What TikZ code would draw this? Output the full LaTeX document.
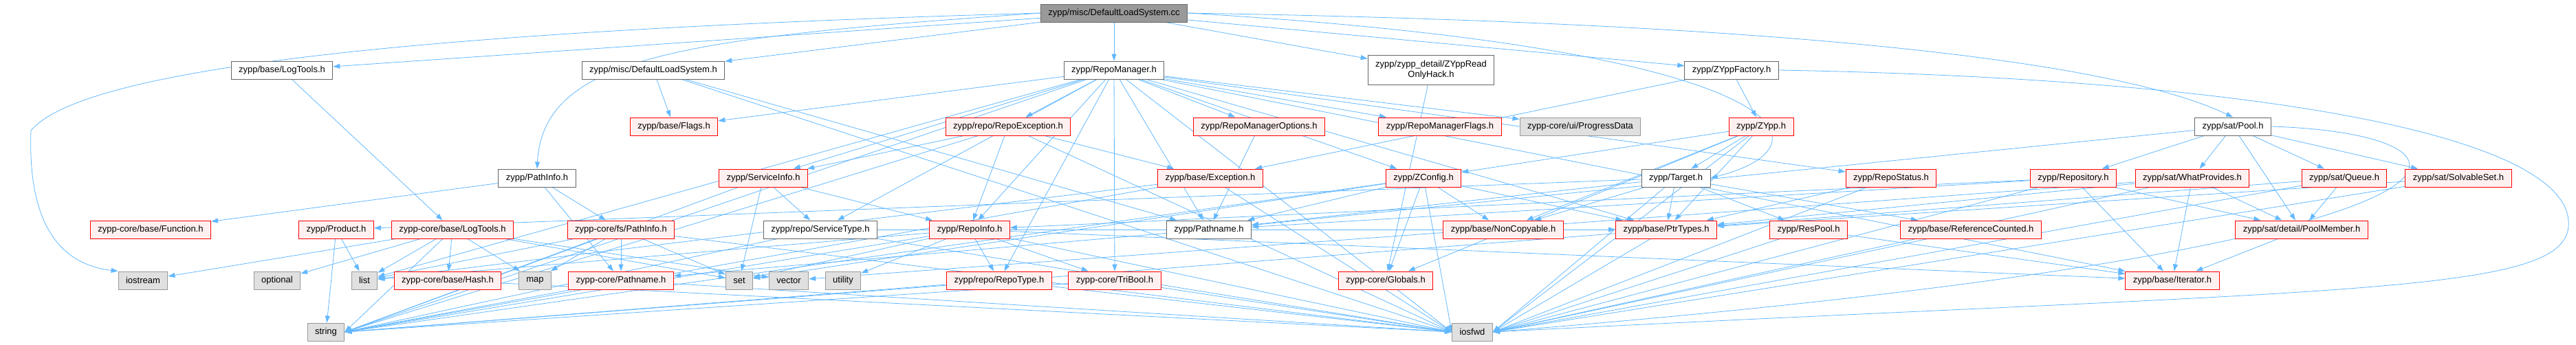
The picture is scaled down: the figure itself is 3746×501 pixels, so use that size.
\documentclass[tikz,border=0pt]{standalone}
\usepackage{fontspec}
\setmainfont{Liberation Sans}
\usetikzlibrary{arrows.meta}
\definecolor{edgeblue}{RGB}{99,184,255}
\definecolor{redfill}{RGB}{255,240,240}
\definecolor{leafgray}{RGB}{224,224,224}
\definecolor{topgray}{RGB}{153,153,153}
\pgfdeclarelayer{bg}
\pgfsetlayers{bg,main}
\tikzset{
  box/.style={draw, rectangle, font=\fontsize{13}{15}\selectfont, inner xsep=11pt, inner ysep=0pt, minimum height=26pt, line width=1pt},
  topbox/.style={box, fill=topgray, draw=black!60},
  wbox/.style={box, fill=white, draw=black!60},
  rbox/.style={box, fill=redfill, draw=red},
  gbox/.style={box, fill=leafgray, draw=black!40},
  dep/.style={draw=edgeblue, line width=0.8pt, -{Triangle[length=10pt,width=7pt]}}
}
\begin{document}
\begin{tikzpicture}[x=1pt,y=-1pt]
\useasboundingbox (0,0) rectangle (3746,501);
%riga 1
\node[topbox] (cc) at (1620,19) {zypp/misc/DefaultLoadSystem.cc};
%riga 2
\node[wbox] (blt) at (410,102) {zypp/base/LogTools.h};
\node[wbox] (dlsh) at (950,102) {zypp/misc/DefaultLoadSystem.h};
\node[wbox] (rm) at (1620,102) {zypp/RepoManager.h};
\node[wbox, align=center, minimum height=43pt] (roh) at (2081,102) {zypp/zypp\_detail/ZYppRead\\OnlyHack.h};
\node[wbox] (zf) at (2518,102) {zypp/ZYppFactory.h};
%riga 3
\node[rbox] (flags) at (980,184) {zypp/base/Flags.h};
\node[rbox] (rexc) at (1466,184) {zypp/repo/RepoException.h};
\node[rbox] (rmo) at (1831,184) {zypp/RepoManagerOptions.h};
\node[rbox] (rmf) at (2094,184) {zypp/RepoManagerFlags.h};
\node[gbox] (prog) at (2298,184) {zypp-core/ui/ProgressData};
\node[rbox] (zypp) at (2561,184) {zypp/ZYpp.h};
\node[wbox] (pool) at (3247,184) {zypp/sat/Pool.h};
%riga 4
\node[wbox] (pinfo) at (781,259) {zypp/PathInfo.h};
\node[rbox] (sinfo) at (1110,259) {zypp/ServiceInfo.h};
\node[rbox] (exc) at (1760,259) {zypp/base/Exception.h};
\node[rbox] (zconf) at (2070,259) {zypp/ZConfig.h};
\node[wbox] (target) at (2437,259) {zypp/Target.h};
\node[rbox] (rstat) at (2750,259) {zypp/RepoStatus.h};
\node[rbox] (repo) at (3015,259) {zypp/Repository.h};
\node[rbox] (wp) at (3188,259) {zypp/sat/WhatProvides.h};
\node[rbox] (queue) at (3409,259) {zypp/sat/Queue.h};
\node[rbox] (sset) at (3575,259) {zypp/sat/SolvableSet.h};
%riga 5
\node[rbox] (func) at (219,334) {zypp-core/base/Function.h};
\node[rbox] (prod) at (489,334) {zypp/Product.h};
\node[rbox] (clt) at (658,334) {zypp-core/base/LogTools.h};
\node[rbox] (fspi) at (903,334) {zypp-core/fs/PathInfo.h};
\node[wbox] (stype) at (1193,334) {zypp/repo/ServiceType.h};
\node[rbox] (rinfo) at (1410,334) {zypp/RepoInfo.h};
\node[wbox] (pname) at (1758,334) {zypp/Pathname.h};
\node[rbox] (noncp) at (2186,334) {zypp/base/NonCopyable.h};
\node[rbox] (ptr) at (2423,334) {zypp/base/PtrTypes.h};
\node[rbox] (rpool) at (2630,334) {zypp/ResPool.h};
\node[rbox] (refc) at (2866,334) {zypp/base/ReferenceCounted.h};
\node[rbox] (pmem) at (3347,334) {zypp/sat/detail/PoolMember.h};
%riga 6
\node[gbox] (iostream) at (208,408) {iostream};
\node[gbox] (optional) at (403,408) {optional};
\node[gbox] (list) at (530,408) {list};
\node[rbox] (hash) at (651,408) {zypp-core/base/Hash.h};
\node[gbox] (map) at (778,408) {map};
\node[rbox] (cpname) at (903,408) {zypp-core/Pathname.h};
\node[gbox] (set) at (1075,408) {set};
\node[gbox] (vector) at (1147,408) {vector};
\node[gbox] (utility) at (1226,408) {utility};
\node[rbox] (rtype) at (1453,408) {zypp/repo/RepoType.h};
\node[rbox] (tribool) at (1621,408) {zypp-core/TriBool.h};
\node[rbox] (globals) at (2015,408) {zypp-core/Globals.h};
\node[rbox] (iter) at (3159,408) {zypp/base/Iterator.h};
%riga 7
\node[gbox] (string) at (474,483) {string};
\node[gbox] (iosfwd) at (2141,483) {iosfwd};
%archi
\begin{pgfonlayer}{bg}
%dal file .cc
\draw[dep] (cc.west) .. controls (600,45) and (120,100) .. (45,190) .. controls (40,330) and (90,385) .. (iostream.north west);
\draw[dep] (cc.west) .. controls (1000,55) and (790,80) .. (pinfo.north);
\draw[dep] (cc.east) .. controls (2600,70) and (2680,210) .. (target.east);
\draw[dep] (cc.east) .. controls (2700,35) and (3100,100) .. (pool.north);
\foreach \t in {blt,dlsh,rm,roh,zf} \draw[dep] (cc) -- (\t);
%seconda riga
\draw[dep] (blt) -- (clt);
\foreach \t in {iosfwd.west,pname,flags} \draw[dep] (dlsh) -- (\t);
\foreach \t in {iosfwd.west,list,string.east,ptr,iter,flags,pname,zconf,rinfo,rexc,sinfo,stype,rstat,prog,rmf,rmo,rtype,tribool} \draw[dep] (rm) -- (\t);
\draw[dep] (roh) -- (globals);
\foreach \t in {zypp,exc} \draw[dep] (zf) -- (\t);
\draw[dep] (zf.east) .. controls (3300,115) and (3746,200) .. (3735,330) .. controls (3725,430) and (3400,420) .. (iosfwd.east);
%terza riga
\foreach \t in {repo,wp,pmem,queue,sset,pname} \draw[dep] (pool) -- (\t);
\draw[dep] (pool.east) .. controls (3650,195) and (3700,360) .. (iosfwd.east);
\foreach \t in {iosfwd.west,string.east,exc,rinfo,sinfo} \draw[dep] (rexc) -- (\t);
\draw[dep] (rmo) -- (pname);
\foreach \t in {target,ptr,zconf,noncp,globals,iosfwd.east} \draw[dep] (zypp) -- (\t);
%quarta riga
\foreach \t in {fspi,cpname,func} \draw[dep] (pinfo) -- (\t);
\foreach \t in {set,string.east,stype,rinfo} \draw[dep] (sinfo) -- (\t);
\foreach \t in {iosfwd.west,string.east,list} \draw[dep] (exc) -- (\t);
\foreach \t in {iosfwd.west,set,string.east,globals,noncp,ptr,pname} \draw[dep] (zconf) -- (\t);
\foreach \t in {iosfwd.east,refc,noncp,ptr,prod,pname,rpool} \draw[dep] (target) -- (\t);
\foreach \t in {iosfwd.east,ptr} \draw[dep] (rstat) -- (\t);
\foreach \t in {iosfwd.east,iter,pname,pmem,rinfo} \draw[dep] (repo) -- (\t);
\foreach \t in {pmem,iter,ptr,iosfwd.east,vector} \draw[dep] (wp) -- (\t);
\foreach \t in {pmem,ptr,iosfwd.east} \draw[dep] (queue) -- (\t);
\foreach \t in {ptr,iosfwd.east} \draw[dep] (sset) -- (\t);
%quinta riga
\foreach \t in {list,string} \draw[dep] (prod) -- (\t);
\foreach \t in {iostream,optional,list,string.east,hash,map,set,vector} \draw[dep] (clt) -- (\t);
\foreach \t in {iosfwd.west,list,set,map,cpname,string.east} \draw[dep] (fspi) -- (\t);
\foreach \t in {iosfwd.west,string.east,ptr} \draw[dep] (stype) -- (\t);
\foreach \t in {list,set,utility,rtype,tribool,iosfwd.west,string.east,iter} \draw[dep] (rinfo) -- (\t);
\draw[dep] (pname) -- (cpname);
\foreach \t in {iosfwd.east,string.east} \draw[dep] (ptr) -- (\t);
\foreach \t in {iosfwd.east,iter} \draw[dep] (rpool) -- (\t);
\draw[dep] (refc) -- (iosfwd.east);
\draw[dep] (pmem) -- (iter);
%sesta riga
\draw[dep] (hash) -- (iosfwd.west);
\foreach \t in {iosfwd.west,string.east} \draw[dep] (cpname) -- (\t);
\foreach \t in {iosfwd.west,string.east} \draw[dep] (rtype) -- (\t);
\foreach \t in {iosfwd.west,string.east} \draw[dep] (tribool) -- (\t);
\end{pgfonlayer}
\end{tikzpicture}
\end{document}
